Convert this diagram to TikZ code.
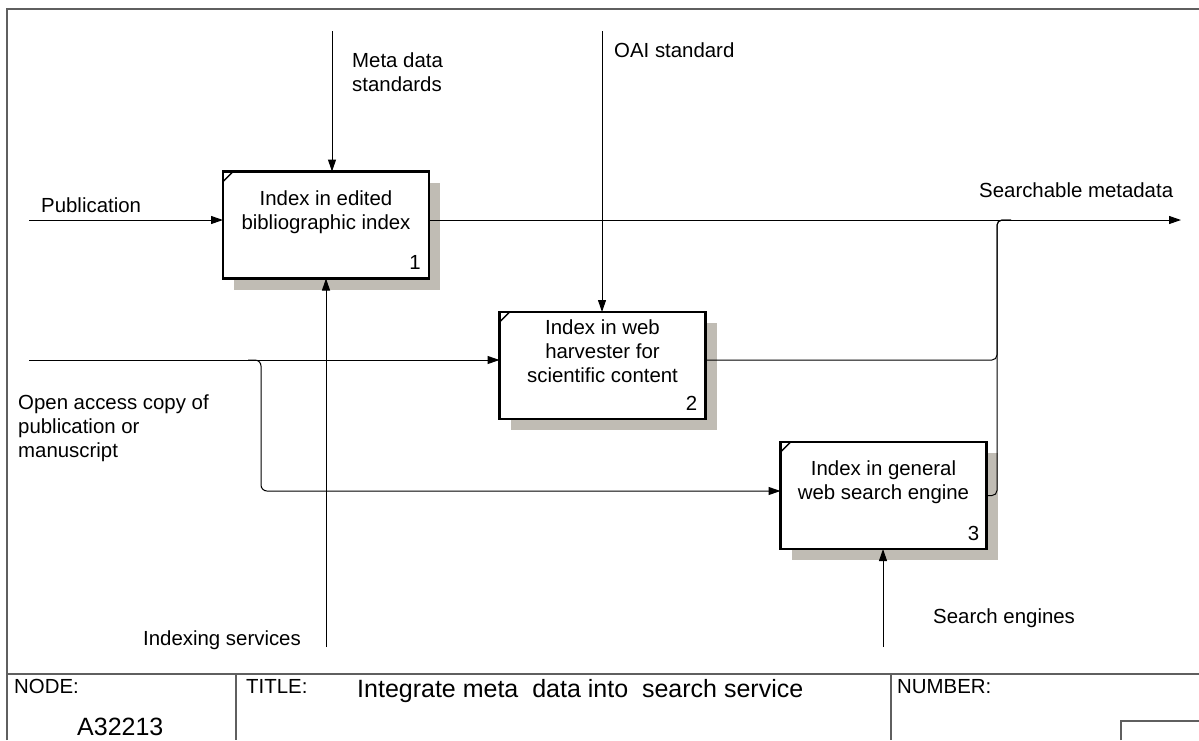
\documentclass[tikz,border=0pt]{standalone}
\usepackage{fontspec}
\setmainfont{Liberation Sans}
\usetikzlibrary{arrows.meta}
\definecolor{shadowgray}{RGB}{192,188,180}
\definecolor{framegray}{RGB}{95,95,95}
\begin{document}
\begin{tikzpicture}[x=1pt,y=-1pt,
  box/.style={draw, line width=2.4pt, fill=white, minimum width=206pt, minimum height=107pt, inner sep=0pt, outer sep=0pt},
  shadowbox/.style={fill=shadowgray, minimum width=206pt, minimum height=107pt, inner sep=0pt, outer sep=0pt},
  lab/.style={font=\fontsize{20.4pt}{24pt}\selectfont, inner sep=0pt, align=left, anchor=base west},
  boxtext/.style={font=\fontsize{20.4pt}{24pt}\selectfont, inner sep=0pt, align=center, anchor=base},
  numtext/.style={font=\fontsize{20.4pt}{24pt}\selectfont, inner sep=0pt, anchor=base east},
  arr/.style={line width=1pt, -{Triangle[length=12pt,width=8pt]}},
  conn/.style={line width=1pt},
  frame/.style={draw=framegray, line width=1.4pt},
  corner/.style={line width=1.4pt}
]
\useasboundingbox (0,0) rectangle (1199,740);

% frame and title block
\draw[frame] (7,740) -- (7,9) -- (1199,9);
\draw[frame] (7,674) -- (1199,674);
\draw[frame] (236,674) -- (236,740);
\draw[frame] (891,674) -- (891,740);
\draw[frame] (1121,740) -- (1121,721) -- (1199,721);
\node[lab] (nodelbl) at (14,693) {NODE:};
\node[lab, font=\fontsize{25pt}{30pt}\selectfont] (nodenum) at (77,735) {A32213};
\node[lab] (titlelbl) at (246,693) {TITLE:};
\node[lab, font=\fontsize{25pt}{30pt}\selectfont] (title) at (357,697) {Integrate meta\ \ data into\ \ search service};
\node[lab] (numlbl) at (897,693) {NUMBER:};

% shadows
\node[shadowbox] (s1) at (337,236) {};
\node[shadowbox] (s2) at (613.5,376.5) {};
\node[shadowbox] (s3) at (894.5,506.5) {};

% boxes
\node[box] (b1) at (326,225) {};
\node[box] (b2) at (602.5,365.5) {};
\node[box] (b3) at (883.5,495.5) {};
\foreach \b in {b1,b2,b3}{
  \draw[corner] ([yshift=-10pt]\b.north west) -- ([xshift=10pt]\b.north west);
}
\node[boxtext] (t1) at (326,229) {Index in edited\\bibliographic index};
\node[boxtext] (t2) at (602.5,382) {Index in web\\harvester for\\scientific content};
\node[boxtext] (t3) at (883.5,499) {Index in general\\web search engine};
\node[numtext] (n1) at ([xshift=-8pt,yshift=9pt]b1.south east) {1};
\node[numtext] (n2) at ([xshift=-8pt,yshift=9pt]b2.south east) {2};
\node[numtext] (n3) at ([xshift=-7pt,yshift=9pt]b3.south east) {3};

% connector end points
\coordinate (pub) at (29,220);
\coordinate (oa) at (29,360);
\coordinate (br) at (248,360);
\coordinate (meta) at (332,31);
\coordinate (oai) at (602,31);
\coordinate (idx) at (326,647);
\coordinate (se) at (883,647);
\coordinate (out) at (1181,220);
\coordinate (mg) at (997,220);

% connectors
\draw[arr] (pub) -- (pub -| b1.west);
\draw[arr] (meta) -- (meta |- b1.north);
\draw[arr] (idx) -- (idx |- b1.south);
\draw[arr] (b1.east |- pub) -- (out);
\draw[arr] (oai) -- (oai |- b2.north);
\draw[arr] (oa) -- (oa -| b2.west);
\draw[arr, rounded corners=6pt] (br) -- (261,360) -- (261,491) -- (b3.west |- 0,491);
\draw[arr] (se) -- (se |- b3.south);
\draw[conn, rounded corners=5pt] ([yshift=5.5pt]b2.east) -| (mg) -- ++(14,0);
\draw[conn, rounded corners=5pt] (b3.east) -| (mg) -- ++(14,0);

% labels
\node[lab] (lpub) at (41,212) {Publication};
\node[lab] (lmeta) at (352,91) {Meta data\\standards};
\node[lab] (loai) at (614,57) {OAI standard};
\node[lab] (loa) at (18,457) {Open access copy of\\publication or\\manuscript};
\node[lab] (lout) at (979,197) {Searchable metadata};
\node[lab] (lidx) at (143,645) {Indexing services};
\node[lab] (lse) at (933,623) {Search engines};
\end{tikzpicture}
\end{document}
